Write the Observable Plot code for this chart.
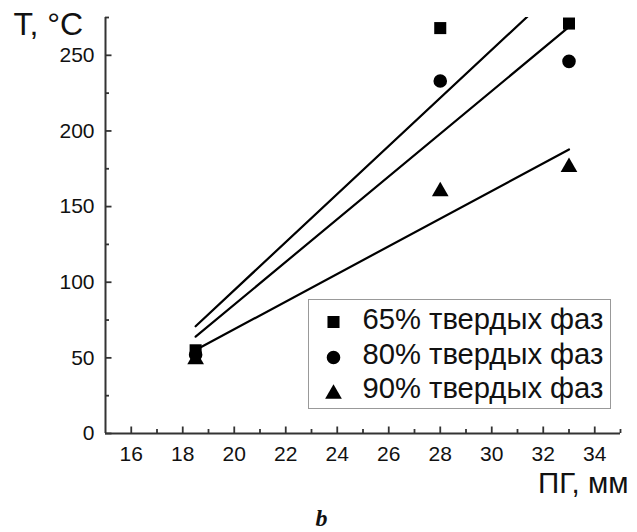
<!DOCTYPE html>
<html>
<head>
<meta charset="utf-8">
<script src="https://cdn.jsdelivr.net/npm/d3@7"></script>
<script src="https://cdn.jsdelivr.net/npm/@observablehq/plot@0.6"></script>
<style>
  html, body { margin: 0; padding: 0; background: #fff; }
  #chart svg { display: block; }
</style>
</head>
<body>
<div id="chart"></div>
<script>
// ---- data ----
const pg = [18.5, 28, 33];                 // ПГ, мм
const t65 = [55, 268, 271];                // 65% твердых фаз
const t80 = [52, 233, 246];                // 80% твердых фаз
const t90 = [49, 160, 176];                // 90% твердых фаз
const seriesNames = ["65% твердых фаз", "80% твердых фаз", "90% твердых фаз"];
const seriesSymbols = ["square", "circle", "triangle"];
const xTicks = [16, 18, 20, 22, 24, 26, 28, 30, 32, 34];
const xMinorTicks = [17, 19, 21, 23, 25, 27, 29, 31, 33, 35];
const yTicks = [0, 50, 100, 150, 200, 250];
const yMinorTicks = [25, 75, 125, 175, 225, 275];
const xDomain = [15, 35];
const yDomain = [0, 275];

// ---- build ----
const seriesValues = [t65, t80, t90];
const rows = seriesNames.flatMap((name, s) =>
  pg.map((x, i) => ({series: name, symbol: seriesSymbols[s], x, y: seriesValues[s][i]})));

const FONT = "'Liberation Sans', Arial, sans-serif";
const axisColor = "#333";
const W = 637, H = 532;
const mL = 105, mR = 17, mT = 17, mB = 99;
const frameW = W - mL - mR, frameH = H - mT - mB;
const symR = {square: 6.8, circle: 6.8, triangle: 6.2};

const marks = [];
// regression lines (computed by Plot)
seriesNames.forEach(name => {
  marks.push(Plot.linearRegressionY(rows.filter(d => d.series === name), {
    x: "x", y: "y", ci: 0, stroke: "black", strokeWidth: 2.2, clip: true
  }));
});
// data points
seriesSymbols.forEach(sym => {
  marks.push(Plot.dot(rows.filter(d => d.symbol === sym), {
    x: "x", y: "y", symbol: "symbol", r: symR[sym], fill: "black", stroke: "none"
  }));
});
// axis lines
marks.push(Plot.ruleX([xDomain[0]], {stroke: axisColor, strokeWidth: 2}));
marks.push(Plot.ruleY([yDomain[0]], {stroke: axisColor, strokeWidth: 2}));
// inward ticks
marks.push(Plot.tickX(xTicks, {x: d => d, insetTop: frameH - 6.5, stroke: axisColor, strokeWidth: 1.8}));
marks.push(Plot.tickX(xMinorTicks, {x: d => d, insetTop: frameH - 4, stroke: axisColor, strokeWidth: 1.8}));
marks.push(Plot.tickY(yTicks, {y: d => d, insetRight: frameW - 6.5, stroke: axisColor, strokeWidth: 1.8}));
marks.push(Plot.tickY(yMinorTicks, {y: d => d, insetRight: frameW - 4, stroke: axisColor, strokeWidth: 1.8}));
// tick labels
marks.push(Plot.axisX({ticks: xTicks, tickSize: 0, tickPadding: 13, fontSize: 21, label: null, fill: "#111"}));
marks.push(Plot.axisY({ticks: yTicks, tickSize: 0, tickPadding: 11, fontSize: 21, label: null, fill: "#111"}));
// axis titles
marks.push(Plot.text(["T, °C"], {frameAnchor: "top-left", textAnchor: "start", lineAnchor: "top",
  dx: 13 - mL, dy: 11.5 - mT, fontSize: 32, fill: "#111"}));
marks.push(Plot.text(["ПГ, мм"], {frameAnchor: "bottom-right", textAnchor: "end", lineAnchor: "top",
  dx: 8, dy: 38.5, fontSize: 29.5, fill: "#111"}));
// legend
marks.push(Plot.frame({insetLeft: 203, insetRight: 10, insetTop: 282, insetBottom: 25, stroke: "#999", strokeWidth: 1}));
const legendSymbolY = [321.5, 357, 393.5];
const legendTextY = [319.2, 353.8, 388.4];
seriesNames.forEach((name, i) => {
  marks.push(Plot.dot([name], {frameAnchor: "top-left", dx: 333 - mL, dy: legendSymbolY[i] - mT,
    symbol: () => seriesSymbols[i], r: symR[seriesSymbols[i]], fill: "black", stroke: "none"}));
  marks.push(Plot.text([name], {frameAnchor: "top-left", dx: 362 - mL, dy: legendTextY[i] - mT, textAnchor: "start",
    lineAnchor: "middle", fontSize: 29.2, fill: "#111"}));
});
// panel letter
marks.push(Plot.text(["b"], {frameAnchor: "bottom", lineAnchor: "bottom", dx: 321 - (mL + frameW / 2), dy: 92,
  fontSize: 24, fontFamily: "'Liberation Serif', 'Times New Roman', serif", fontWeight: "bold", fontStyle: "italic", fill: "#111"}));

const chart = Plot.plot({
  width: W, height: H,
  marginLeft: mL, marginRight: mR, marginTop: mT, marginBottom: mB,
  style: {fontFamily: FONT, background: "white", overflow: "visible"},
  x: {domain: xDomain, axis: null},
  y: {domain: yDomain, axis: null},
  symbol: {domain: seriesSymbols, range: seriesSymbols},
  marks
});
document.getElementById("chart").append(chart);
</script>
</body>
</html>
